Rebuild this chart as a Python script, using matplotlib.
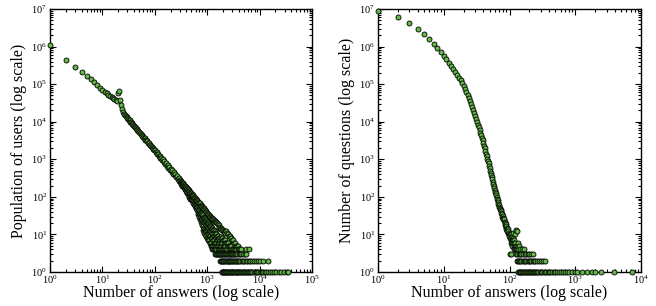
import matplotlib as mpl
import matplotlib.pyplot as plt
from matplotlib.ticker import LogLocator, NullFormatter

# left panel: users vs number of answers
users_x = [1, 2, 3, 4, 5, 6, 7, 8, 9, 10, 11, 12, 13, 14, 15, 16, 17, 18, 19, 20,
           21, 22, 23, 24, 25, 26, 27, 28, 29, 30, 31, 32, 33, 34, 35, 36, 37, 38,
           40, 41, 42, 44, 45, 46, 48, 50, 52, 54, 56, 58, 60, 62, 64, 66, 68, 70,
           72, 74, 77, 80, 82, 85, 88, 91, 94, 97, 100, 104, 108, 112, 116, 120,
           124, 128, 133, 138, 143, 148, 153, 158, 164, 170, 176, 182, 188, 195,
           202, 209, 216, 224, 232, 240, 248, 257, 266, 275, 285, 295, 305]
users_y = [1.1e6, 4.5e5, 2.9e5, 2.1e5, 1.66e5, 1.35e5, 1.12e5, 9.4e4, 8.0e4, 6.9e4,
           6.3e4, 5.8e4, 5.3e4, 4.9e4, 4.6e4, 4.3e4, 4.0e4, 3.7e4, 3.6e4, 5.9e4,
           6.5e4, 3.9e4, 2.8e4, 2.2e4, 1.85e4, 1.65e4, 1.5e4, 1.4e4, 1.32e4, 12600,
           12100, 11200, 10800, 10100, 9800, 9200, 8950, 8400, 7850, 7400, 7250,
           6600, 6450, 6100, 5800, 5300, 5100, 4700, 4500, 4150, 4020, 3720, 3620,
           3350, 3260, 3030, 2980, 2760, 2680, 2420, 2410, 2190, 2150, 1950, 1930,
           1750, 1780, 1540, 1560, 1350, 1390, 1200, 1250, 1070, 1110, 950, 990,
           840, 890, 750, 800, 660, 710, 590, 640, 525, 565, 470, 505, 418, 450,
           372, 402, 330, 360, 295, 322, 262, 288]

# tail of the left panel: x column -> counts seen near that x
users_tail_x = [310, 320, 330, 340, 350, 360, 370, 380, 390, 400, 410, 420, 430,
                442, 455, 467, 480, 492, 505, 517, 530, 545, 560, 575, 590, 605,
                620, 635, 650, 670, 690, 710, 730, 750, 770, 790, 810, 835, 860,
                885, 910, 935, 960, 990, 1020, 1050, 1080, 1115, 1150, 1185, 1220,
                1260, 1300, 1340, 1380, 1420, 1460, 1500, 1550, 1600, 1650, 1700,
                1750, 1810, 1870, 1930, 2000, 2070, 2150, 2220, 2300, 2400, 2500,
                2600, 2700, 2800, 2900, 3020, 3150, 3270, 3400, 3550, 3700, 3900,
                4100, 4300, 4500, 4800, 5200, 5600, 6200]
users_tail_y = [[270, 245, 230], [255, 225], [240, 215, 200], [230, 205],
                [220, 190], [210, 180], [200, 170, 160], [195, 165], [185, 150],
                [178, 145], [170, 140, 130], [165, 135], [160, 125],
                [150, 120, 108], [140, 112, 100], [135, 105, 95], [130, 100, 90],
                [124, 97, 88], [118, 92, 85], [114, 88, 80], [110, 85, 75],
                [105, 80, 70], [100, 76, 65], [96, 72, 62], [92, 70, 58],
                [88, 65, 55], [85, 60, 52], [82, 58, 49], [78, 55, 46],
                [74, 52, 43, 36], [70, 48, 40, 32], [68, 45, 37, 29],
                [67, 42, 35, 26], [62, 40, 32, 24], [58, 38, 30, 22],
                [56, 36, 28, 20], [55, 34, 26, 18], [52, 32, 24, 17, 13],
                [50, 30, 22, 15, 12], [47, 28, 21, 15, 11], [45, 27, 20, 14, 10],
                [42, 25, 19, 13, 9], [40, 24, 18, 12, 9], [38, 23, 17, 12, 8],
                [36, 21, 16, 11, 8], [34, 20, 15, 10, 7], [33, 19, 14, 10, 7],
                [31, 18, 13, 9, 6], [30, 17, 12, 9, 6], [28, 16, 12, 8, 6, 5],
                [27, 15, 11, 8, 5], [26, 14, 11, 8, 5, 4], [25, 13, 10, 7, 5, 4],
                [24, 13, 9, 7, 5, 4], [23, 12, 9, 6, 4], [22, 11, 9, 6, 4, 3],
                [22, 11, 8, 6, 4, 3], [21, 10, 8, 5, 4, 3], [20, 9, 7, 5, 3],
                [19, 9, 7, 5, 4, 3], [18, 8, 6, 4, 3], [16, 8, 6, 4, 3],
                [15, 7, 5, 4, 3], [15, 9, 6, 4, 3], [14, 8, 6, 5, 3],
                [13, 8, 6, 4, 3], [13, 7, 5, 4, 3], [12, 7, 5, 4, 3],
                [12, 7, 5, 4, 3], [11, 6, 5, 3], [12, 6, 4, 3], [11, 6, 4, 3],
                [10, 6, 5, 3], [9, 5, 4, 3], [9, 5, 4, 3], [8, 5, 4, 3], [8, 5, 3],
                [7, 4, 3], [7, 4, 3], [6, 4, 3], [6, 4, 3], [5, 4, 3], [5, 3],
                [5, 4], [4, 3], [4, 3], [4, 3], [3], [3], [3, 4], [4]]
users_two_x = [1760, 1820, 1880, 1950, 2020, 2100, 2180, 2260, 2350, 2450, 2550,
               2650, 2760, 2880, 3000, 3130, 3270, 3420, 3580, 3750, 3920, 4100,
               4300, 4550, 4800, 5100, 5400, 5800, 6200, 6700, 7200, 7800, 8500,
               9300, 10200, 11500, 14500]
users_one_x = [1900, 1950, 2000, 2060, 2120, 2180, 2250, 2320, 2400, 2480, 2560,
               2650, 2740, 2830, 2930, 3030, 3140, 3250, 3370, 3500, 3630, 3770,
               3900, 4050, 4200, 4400, 4600, 4800, 5000, 5250, 5500, 5750, 6000,
               6300, 6600, 6900, 7300, 7700, 8100, 8500, 9000, 9500, 10000, 10600,
               11200, 11800, 12500, 13300, 14200, 15500, 17000, 18500, 20500,
               23000, 26000, 29000, 33000, 35500]

# right panel: questions vs number of answers
questions_x = list(range(1, 101))
questions_y = [8.6e6, 6.1e6, 4.3e6, 3.0e6, 2.15e6, 1.6e6, 1.2e6, 9.2e5, 7.1e5, 5.6e5,
               4.6e5, 3.75e5, 3.1e5, 2.55e5, 2.1e5, 1.78e5, 1.5e5, 1.26e5, 1.07e5, 8.9e4,
               7.4e4, 6.2e4, 5.1e4, 4.3e4, 3.6e4, 3.0e4, 2.5e4, 2.05e4, 1.7e4, 1.42e4,
               1.18e4, 9800, 8300, 7100, 6000, 5100, 4400, 3700, 3200, 2700,
               2300, 1950, 1660, 1410, 1200, 1020, 890, 780, 660, 575,
               500, 435, 380, 330, 290, 250, 225, 195, 175, 155,
               138, 123, 110, 98, 89, 80, 72, 65, 59, 54,
               50, 47, 45, 42, 38, 36, 34, 30, 31, 27,
               26, 24, 25, 21, 20, 18, 19, 16, 17, 14,
               15, 13, 12, 14, 11, 12, 10, 11, 9, 10]
questions_tail_x = [100, 102, 103, 104, 104, 105, 106, 107, 108, 109, 110, 111, 112,
                    113, 114, 115, 116, 117, 118, 119, 120, 121, 122, 123, 124, 125,
                    126, 127, 128, 129, 130, 132, 134, 136, 138, 140, 143, 146, 150,
                    155, 160, 165, 170, 180, 190, 200, 212, 225]
questions_tail_y = [3, 8, 9, 7, 3, 10, 6, 8, 7, 9, 6, 5, 8, 7, 6, 11, 5, 7, 4, 6, 10,
                    5, 4, 6, 5, 13, 4, 3, 5, 12, 4, 3, 6, 4, 3, 5, 3, 4, 3, 4, 3, 4,
                    3, 3, 3, 3, 3, 3]
questions_two_x = [130, 135, 140, 146, 152, 158, 165, 172, 180, 188, 196, 205, 215,
                   225, 236, 248, 262, 278, 300, 320, 345]
questions_one_x = [134, 138, 142, 146, 150, 155, 160, 165, 170, 176, 182, 188, 195,
                   202, 210, 218, 226, 235, 245, 255, 265, 276, 288, 300, 315, 330,
                   345, 362, 380, 400, 420, 445, 470, 500, 530, 560, 600, 640, 690,
                   740, 800, 880, 1000, 1070, 1280, 1500, 1820, 2030, 2460, 3900, 7400]

plt.rcParams['font.family'] = 'Liberation Serif'
plt.rcParams['mathtext.fontset'] = 'custom'
plt.rcParams['mathtext.rm'] = 'Liberation Serif'
plt.rcParams['mathtext.it'] = 'Liberation Serif:italic'

dpi = 100
fig = plt.figure(dpi=dpi, figsize=(656 / dpi, 306 / dpi))
ax1 = fig.add_axes([50 / 656, 34 / 306, 262 / 656, 263 / 306])
ax2 = fig.add_axes([378 / 656, 34 / 306, 263 / 656, 263 / 306])

green = '#62b947'
mk = dict(s=13, c=green, edgecolors='black', linewidths=0.6, clip_on=False, zorder=3)

# gather left panel points
lx = list(users_x)
ly = list(users_y)
for x, ys in zip(users_tail_x, users_tail_y):
    for y in ys:
        lx.append(x)
        ly.append(y)
lx += users_two_x
ly += [2] * len(users_two_x)
lx += users_one_x
ly += [1] * len(users_one_x)
ax1.scatter(lx, ly, **mk)

rx = questions_x + questions_tail_x + questions_two_x + questions_one_x
ry = (questions_y + questions_tail_y + [2] * len(questions_two_x)
      + [1] * len(questions_one_x))
ax2.scatter(rx, ry, **mk)

for ax, xmax, ylab in [(ax1, 1e5, 'Population of users (log scale)'),
                       (ax2, 1e4, 'Number of questions (log scale)')]:
    ax.set_xscale('log')
    ax.set_yscale('log')
    ax.set_xlim(1, xmax)
    ax.set_ylim(1, 1e7)
    ax.xaxis.set_major_locator(LogLocator(base=10, numticks=12))
    ax.yaxis.set_major_locator(LogLocator(base=10, numticks=12))
    ax.xaxis.set_minor_locator(LogLocator(base=10, subs=range(2, 10), numticks=100))
    ax.yaxis.set_minor_locator(LogLocator(base=10, subs=range(2, 10), numticks=100))
    ax.xaxis.set_minor_formatter(NullFormatter())
    ax.yaxis.set_minor_formatter(NullFormatter())
    ax.tick_params(which='both', direction='in', top=True, right=True,
                   labelsize=7.5, colors='black', width=0.8)
    ax.tick_params(which='major', length=4, pad=2)
    ax.tick_params(axis='x', which='major', pad=1)
    ax.tick_params(which='minor', length=2)
    for sp in ax.spines.values():
        sp.set_linewidth(1.0)
    ax.set_xlabel('Number of answers (log scale)', fontsize=11.5, labelpad=-0.5)
    ax.set_ylabel(ylab, fontsize=11.5, labelpad=3)

plt.savefig('out.png', dpi=dpi)
